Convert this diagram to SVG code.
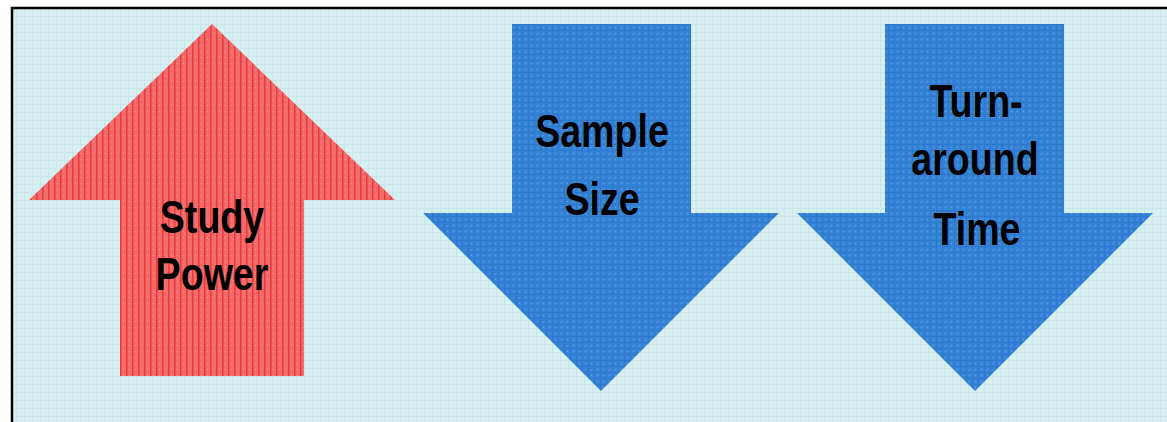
<svg xmlns="http://www.w3.org/2000/svg" width="1167" height="422" viewBox="0 0 1167 422">
<style>
.lbl{font-family:"Liberation Sans",Arial,sans-serif;font-size:47px;font-weight:bold;fill:#000;text-anchor:middle}
.up{fill:url(#redPat)}
.down{fill:url(#bluePat)}
</style>
<defs>
<pattern id="bgPat" width="8" height="8" patternUnits="userSpaceOnUse">
<rect width="8" height="8" fill="#D7EFF1"/>
<rect x="0" y="0" width="1" height="8" fill="#C6E6EA"/>
<rect x="0" y="0" width="8" height="1" fill="#C6E6EA"/>
</pattern>
<pattern id="redPat" width="6" height="6" patternUnits="userSpaceOnUse">
<rect width="6" height="6" fill="#F36A6A"/>
<rect x="0" y="0" width="1.5" height="6" fill="#EC3A3A"/>
<rect x="3" y="3" width="1" height="1" fill="#F79090"/>
</pattern>
<pattern id="bluePat" width="6" height="6" patternUnits="userSpaceOnUse">
<rect width="6" height="6" fill="#3584D8"/>
<rect x="0" y="0" width="1" height="6" fill="#2E78CC"/>
<rect x="0" y="0" width="6" height="1" fill="#2E78CC"/>
<rect x="3" y="3" width="1" height="1" fill="#6FA8E6"/>
</pattern>
</defs>
<rect x="0" y="0" width="1167" height="422" fill="#FFFFFF"/>
<rect x="12" y="8" width="1155" height="414" fill="url(#bgPat)"/>
<path d="M12 422 V8 H1167" fill="none" stroke="#000" stroke-width="2.5"/>
<g id="connectors"></g>
<g id="study-power">
<polygon class="up" points="212,24 395,200 304,200 304,376 120,376 120,200 29,200"/>
<text class="lbl" transform="translate(212,233) scale(0.8,1)">Study</text>
<text class="lbl" transform="translate(212,290) scale(0.8,1)">Power</text>
</g>
<g id="sample-size">
<polygon class="down" points="512,24 691,24 691,213 779,213 601,391 423,213 512,213"/>
<text class="lbl" transform="translate(602,147) scale(0.8,1)">Sample</text>
<text class="lbl" transform="translate(602,215) scale(0.8,1)">Size</text>
</g>
<g id="turnaround-time">
<polygon class="down" points="885,24 1064,24 1064,213 1153,213 975,391 797,213 885,213"/>
<text class="lbl" transform="translate(976,117) scale(0.8,1)">Turn-</text>
<text class="lbl" transform="translate(975,175) scale(0.8,1)">around</text>
<text class="lbl" transform="translate(977,245) scale(0.8,1)">Time</text>
</g>
</svg>
